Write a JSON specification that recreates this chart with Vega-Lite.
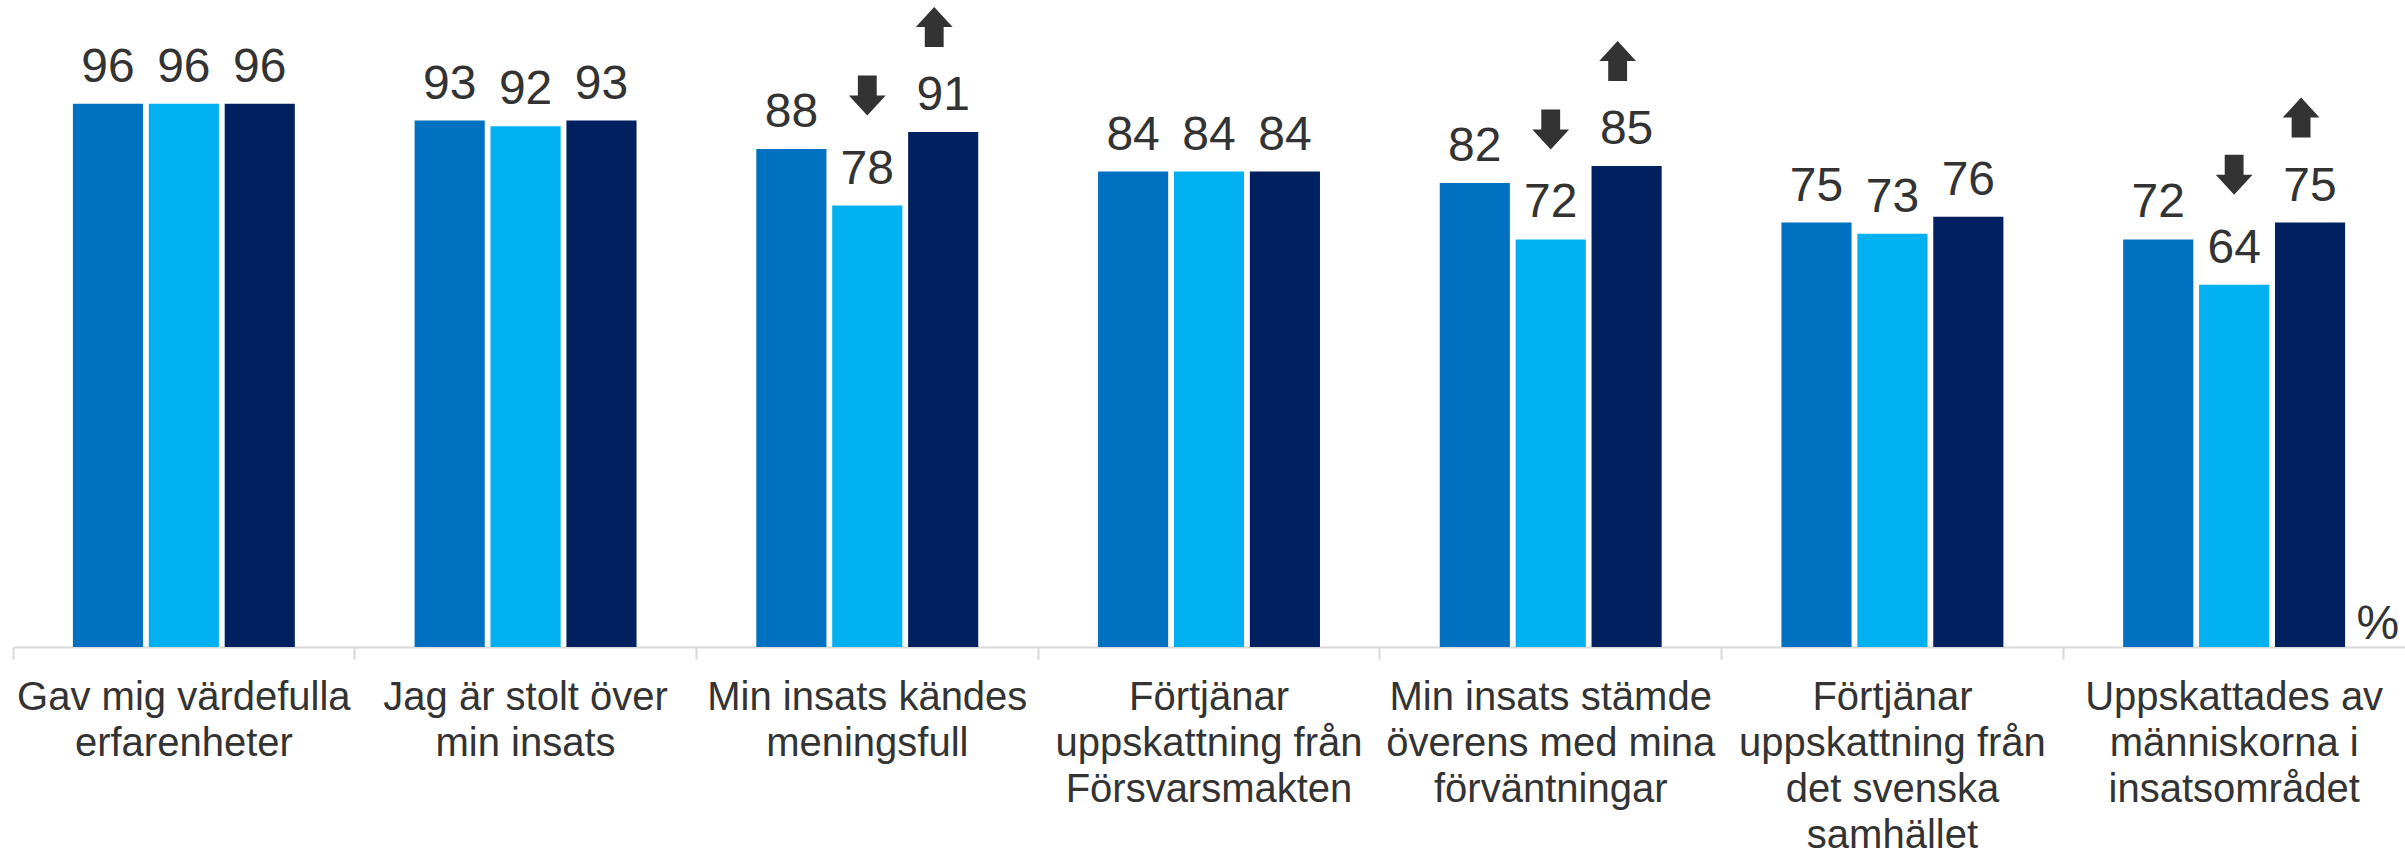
{
  "$schema": "https://vega.github.io/schema/vega-lite/v6.json",
  "width": 2392,
  "height": 566,
  "autosize": {"type": "none"},
  "padding": {"left": 13, "top": 81, "right": 0, "bottom": 202},
  "background": "white",
  "config": {"view": {"stroke": null}, "font": "Liberation Sans"},
  "data": {
    "values": [
      {"kategori": "Gav mig värdefulla\nerfarenheter", "serie": "Serie 1", "varde": 96, "pil": null},
      {"kategori": "Gav mig värdefulla\nerfarenheter", "serie": "Serie 2", "varde": 96, "pil": null},
      {"kategori": "Gav mig värdefulla\nerfarenheter", "serie": "Serie 3", "varde": 96, "pil": null},
      {"kategori": "Jag är stolt över\nmin insats", "serie": "Serie 1", "varde": 93, "pil": null},
      {"kategori": "Jag är stolt över\nmin insats", "serie": "Serie 2", "varde": 92, "pil": null},
      {"kategori": "Jag är stolt över\nmin insats", "serie": "Serie 3", "varde": 93, "pil": null},
      {"kategori": "Min insats kändes\nmeningsfull", "serie": "Serie 1", "varde": 88, "pil": null},
      {"kategori": "Min insats kändes\nmeningsfull", "serie": "Serie 2", "varde": 78, "pil": "ned"},
      {"kategori": "Min insats kändes\nmeningsfull", "serie": "Serie 3", "varde": 91, "pil": "upp"},
      {"kategori": "Förtjänar\nuppskattning från\nFörsvarsmakten", "serie": "Serie 1", "varde": 84, "pil": null},
      {"kategori": "Förtjänar\nuppskattning från\nFörsvarsmakten", "serie": "Serie 2", "varde": 84, "pil": null},
      {"kategori": "Förtjänar\nuppskattning från\nFörsvarsmakten", "serie": "Serie 3", "varde": 84, "pil": null},
      {"kategori": "Min insats stämde\növerens med mina\nförväntningar", "serie": "Serie 1", "varde": 82, "pil": null},
      {"kategori": "Min insats stämde\növerens med mina\nförväntningar", "serie": "Serie 2", "varde": 72, "pil": "ned"},
      {"kategori": "Min insats stämde\növerens med mina\nförväntningar", "serie": "Serie 3", "varde": 85, "pil": "upp"},
      {"kategori": "Förtjänar\nuppskattning från\ndet svenska\nsamhället", "serie": "Serie 1", "varde": 75, "pil": null},
      {"kategori": "Förtjänar\nuppskattning från\ndet svenska\nsamhället", "serie": "Serie 2", "varde": 73, "pil": null},
      {"kategori": "Förtjänar\nuppskattning från\ndet svenska\nsamhället", "serie": "Serie 3", "varde": 76, "pil": null},
      {"kategori": "Uppskattades av\nmänniskorna i\ninsatsområdet", "serie": "Serie 1", "varde": 72, "pil": null},
      {"kategori": "Uppskattades av\nmänniskorna i\ninsatsområdet", "serie": "Serie 2", "varde": 64, "pil": "ned"},
      {"kategori": "Uppskattades av\nmänniskorna i\ninsatsområdet", "serie": "Serie 3", "varde": 75, "pil": "upp"}
    ]
  },
  "encoding": {
    "x": {
      "field": "kategori",
      "type": "nominal",
      "sort": null,
      "scale": {"paddingInner": 0, "paddingOuter": 0},
      "axis": {
        "title": null,
        "labelAngle": 0,
        "labelAlign": "center",
        "labelFont": "Liberation Sans",
        "labelFontSize": 40,
        "labelColor": "#333333",
        "labelLineHeight": 46,
        "labelPadding": 18,
        "labelBaseline": "top",
        "labelLimit": 500,
        "labelOverlap": false,
        "labelFlush": false,
        "labelExpr": "split(datum.value, '\\n')",
        "bandPosition": 0,
        "tickSize": 12,
        "tickWidth": 2,
        "tickColor": "#d9d9d9",
        "domainColor": "#d9d9d9",
        "domainWidth": 2
      }
    },
    "xOffset": {
      "field": "serie",
      "type": "nominal",
      "scale": {"paddingInner": 0.076, "paddingOuter": 0.789}
    },
    "y": {
      "field": "varde",
      "type": "quantitative",
      "scale": {"domain": [0, 100]},
      "axis": {
        "orient": "right",
        "domain": false,
        "ticks": false,
        "labels": false,
        "grid": false,
        "title": "%",
        "titleAngle": 0,
        "titleAlign": "left",
        "titleBaseline": "alphabetic",
        "titleX": -49,
        "titleY": 557,
        "titleFont": "Liberation Sans",
        "titleFontSize": 48,
        "titleFontWeight": "normal",
        "titleColor": "#333333"
      }
    }
  },
  "layer": [
    {
      "mark": {"type": "bar"},
      "encoding": {
        "color": {
          "field": "serie",
          "type": "nominal",
          "scale": {"range": ["#0070C0", "#00B0F0", "#002060"]},
          "legend": null
        }
      }
    },
    {
      "mark": {"type": "text", "dy": -22, "baseline": "alphabetic", "fontSize": 48, "color": "#333333", "font": "Liberation Sans"},
      "encoding": {"text": {"field": "varde", "type": "quantitative"}}
    },
    {
      "transform": [{"filter": "datum.pil === 'upp'"}],
      "mark": {
        "type": "point",
        "shape": "M-0.8,0.87L0.02,0.87L0.02,0L0.41,0L-0.39,-0.87L-1.19,0L-0.8,0Z",
        "size": 2116,
        "filled": true,
        "opacity": 1,
        "strokeWidth": 0,
        "color": "#333333",
        "yOffset": -105
      }
    },
    {
      "transform": [{"filter": "datum.pil === 'ned'"}],
      "mark": {
        "type": "point",
        "shape": "M-0.41,-0.87L0.41,-0.87L0.41,0L0.8,0L0,0.87L-0.8,0L-0.41,0Z",
        "size": 2116,
        "filled": true,
        "opacity": 1,
        "strokeWidth": 0,
        "color": "#333333",
        "yOffset": -110
      }
    }
  ]
}
